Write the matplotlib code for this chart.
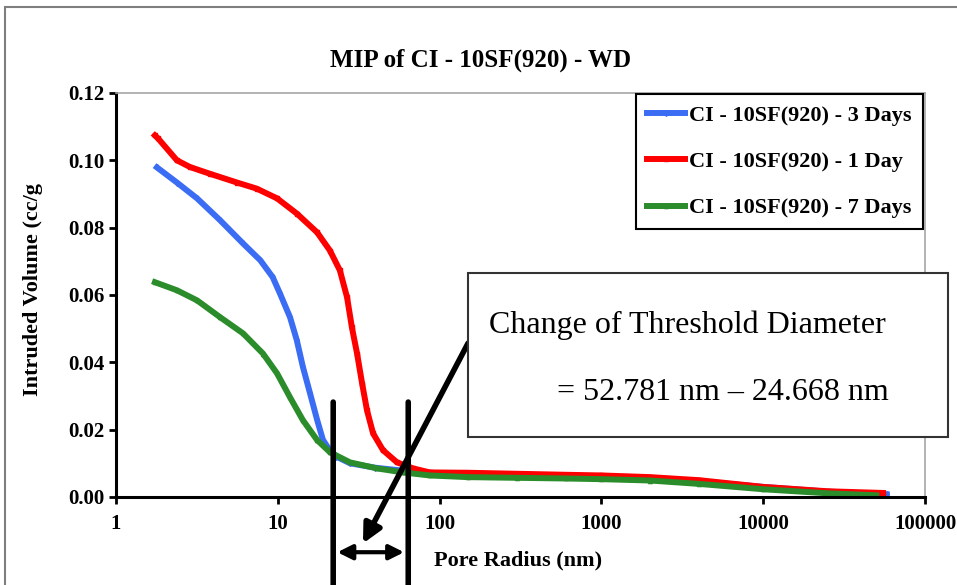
import matplotlib
matplotlib.use("Agg")
import matplotlib.pyplot as plt
from matplotlib.patches import Rectangle
from matplotlib.ticker import FixedLocator, FuncFormatter, NullLocator

plt.rcParams['font.family'] = ['Liberation Serif', 'DejaVu Serif']

# --- data ---
x_3day = [1.79, 2.38, 3.17, 4.4, 6.1, 7.8, 9.3, 10.3, 11.9, 13.1, 14.3, 15.8, 17.5, 19.0, 20.4,
          23, 28, 40, 60, 87, 150, 300, 600, 1000, 2000, 4000, 10000, 25000, 58000]
y_3day = [0.0979, 0.0934, 0.0887, 0.0822, 0.0753, 0.0703, 0.0653, 0.0605, 0.0534, 0.0466, 0.0386,
          0.0309, 0.0229, 0.0170, 0.0147, 0.0120, 0.0100, 0.0087, 0.0078, 0.0072, 0.0066, 0.0064,
          0.0062, 0.0060, 0.0056, 0.0047, 0.0030, 0.0016, 0.0008]

x_1day = [1.74, 1.82, 2.38, 2.87, 3.81, 5.6, 7.4, 9.9, 13.1, 17.5, 21.0, 24.2, 26.8, 28.7, 30.9,
          33.2, 35.6, 38.8, 44.7, 54.5, 68.5, 87, 150, 300, 600, 1000, 2000, 4000, 10000, 25000, 55000]
y_1day = [0.1074, 0.1065, 0.1000, 0.0980, 0.0960, 0.0934, 0.0916, 0.0887, 0.0842, 0.0786, 0.0732,
          0.0673, 0.0593, 0.0504, 0.0426, 0.0337, 0.0257, 0.0189, 0.0139, 0.0103, 0.0085, 0.0073,
          0.0072, 0.0069, 0.0066, 0.0064, 0.0059, 0.0050, 0.0030, 0.0017, 0.0012]

x_7day = [1.74, 2.38, 3.17, 4.4, 6.1, 8.1, 9.9, 11.9, 14.3, 17.5, 21.0, 27.9, 41, 59.4, 87,
          150, 300, 600, 1000, 2000, 4000, 10000, 25000, 50000]
y_7day = [0.0638, 0.0614, 0.0584, 0.0534, 0.0486, 0.0426, 0.0367, 0.0296, 0.0228, 0.0169, 0.0133,
          0.0103, 0.0085, 0.0073, 0.0064, 0.0059, 0.0057, 0.0055, 0.0053, 0.0049, 0.0039, 0.0023,
          0.0011, 0.0005]

labels = ['CI - 10SF(920) - 3 Days', 'CI - 10SF(920) - 1 Day', 'CI - 10SF(920) - 7 Days']
x_ticks = [1, 10, 100, 1000, 10000, 100000]
y_ticks = [0.0, 0.02, 0.04, 0.06, 0.08, 0.10, 0.12]

# threshold marker lines and annotation text
threshold_lines = [22, 64]
note_lines = ['Change of Threshold Diameter', '= 52.781 nm \u2013 24.668 nm']

W, H = 957, 585
fig = plt.figure(figsize=(W / 100, H / 100), dpi=100)


def fx(px):
    return px / W


def fy(py):
    return 1 - py / H


# outer chart frame
fig.patches.append(Rectangle((fx(5), fy(H + 10)), 1.2, fy(7) - fy(H + 10), transform=fig.transFigure,
                             fill=False, edgecolor='#7f7f7f', lw=1.5))

ax = fig.add_axes([fx(116), fy(497), fx(925) - fx(116), fy(93) - fy(497)])

ax.plot(x_3day, y_3day, color='#3a6cf4', lw=4.3, marker='d', ms=3, label=labels[0])
ax.plot(x_1day, y_1day, color='#ff0000', lw=4.3, marker='s', ms=3, label=labels[1])
ax.plot(x_7day, y_7day, color='#2a8c2a', lw=4.3, marker='^', ms=3, label=labels[2])

ax.set_xscale('log')
ax.set_xlim(1, 100000)
ax.set_ylim(0, 0.12)
ax.xaxis.set_major_locator(FixedLocator(x_ticks))
ax.xaxis.set_minor_locator(NullLocator())
ax.xaxis.set_major_formatter(FuncFormatter(lambda v, p: '%d' % v))
ax.set_yticks(y_ticks)
ax.yaxis.set_major_formatter(FuncFormatter(lambda v, p: '%.2f' % v))
ax.tick_params(axis='both', direction='out', width=2, length=5, labelsize=15)
ax.tick_params(axis='x', pad=7)
for lab in ax.get_xticklabels() + ax.get_yticklabels():
    lab.set_fontweight('bold')

for s in ['left', 'bottom']:
    ax.spines[s].set_linewidth(2.2)
    ax.spines[s].set_color('black')
for s in ['top', 'right']:
    ax.spines[s].set_linewidth(1.2)
    ax.spines[s].set_color('#a6a6a6')

fig.text(fx(481), fy(60), 'MIP of CI - 10SF(920) - WD', ha='center', va='center',
         fontsize=18, fontweight='bold')
fig.text(fx(33), fy(290), 'Intruded Volume (cc/g', ha='center', va='center', rotation=90,
         fontsize=16, fontweight='bold')
fig.text(fx(518), fy(560), 'Pore Radius (nm)', ha='center', va='center', fontsize=16, fontweight='bold')

leg = ax.legend(loc='upper right', bbox_to_anchor=(fx(923), fy(94)), bbox_transform=fig.transFigure,
                borderaxespad=0, fancybox=False, edgecolor='black', framealpha=1,
                prop={'size': 16, 'weight': 'bold'}, handlelength=1.7, handletextpad=0.22,
                labelspacing=1.16, borderpad=0.5)
leg.get_frame().set_linewidth(1.5)

# threshold annotation: two vertical lines, double arrow, pointer arrow, text box
for xv in threshold_lines:
    ax.annotate('', xy=(xv, -0.0265), xytext=(xv, 0.0282), xycoords='data',
                arrowprops=dict(arrowstyle='-', lw=4, color='black', shrinkA=0, shrinkB=0),
                annotation_clip=False)
ax.annotate('', xy=(threshold_lines[0], -0.0164), xytext=(threshold_lines[1], -0.0164),
            arrowprops=dict(arrowstyle='<|-|>', lw=3, color='black', mutation_scale=22,
                            shrinkA=3, shrinkB=3),
            annotation_clip=False)
ax.annotate('', xy=(33.6, -0.0138), xytext=(150, 0.0457),
            arrowprops=dict(arrowstyle='-|>', lw=4, color='black', mutation_scale=28,
                            shrinkA=0, shrinkB=0),
            annotation_clip=False)

fig.patches.append(Rectangle((fx(468), fy(437)), fx(948) - fx(468), fy(273) - fy(437),
                             transform=fig.transFigure, fill=True, facecolor='white',
                             edgecolor='#333333', lw=1.5, zorder=5))
fig.text(fx(489), fy(325), note_lines[0], ha='left', va='center', fontsize=23, zorder=6)
fig.text(fx(557), fy(393), note_lines[1], ha='left', va='center', fontsize=23, zorder=6)

fig.savefig('out.png', dpi=100)
